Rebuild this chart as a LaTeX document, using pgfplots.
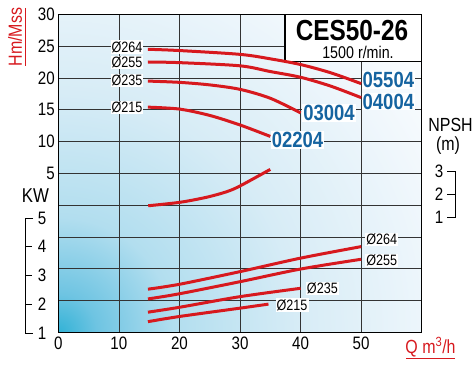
\documentclass[border=0pt]{standalone}
\usepackage{fontspec}
\setmainfont{Liberation Sans}[FakeStretch=0.84]
\usepackage{pgfplots}
\pgfplotsset{compat=1.18}
\definecolor{cred}{RGB}{215,25,30}
\definecolor{cblue}{RGB}{22,100,160}
\definecolor{bg0}{RGB}{50,178,214}
\definecolor{bg1}{RGB}{110,196,226}
\definecolor{bg2}{RGB}{178,222,239}
\definecolor{bg3}{RGB}{215,236,246}
\definecolor{bg4}{RGB}{240,247,252}
\pgfdeclareradialshading{corner}{\pgfpointorigin}{color(0bp)=(bg0); color(2bp)=(bg1); color(6bp)=(bg2); color(12.5bp)=(bg3); color(20bp)=(bg4); color(25bp)=(white); color(50bp)=(white)}
\newcommand{\fs}[1]{\fontsize{#1bp}{#1bp}\selectfont}
\tikzset{lbl/.style={fill=white, inner sep=1bp, font=\fs{15}},
  blbl/.style={fill=white, inner sep=1bp, font=\fs{22}\bfseries, text=cblue}}
\begin{document}
\begin{tikzpicture}[x=1bp,y=1bp]
\path[use as bounding box] (0,0) rectangle (472,364);
% background gradient of the plot area
\begin{scope}
\clip (58.3,31.7) rectangle (421.7,349.7);
\shade[shading=corner] (58.3,31.7) circle (480);
\end{scope}
\pgfplotsset{every axis/.append style={at={(58.3bp,31.7bp)}, anchor=south west,
  width=363.4bp, height=318bp, scale only axis, xmin=0, xmax=60, clip=false}}
% ---------- main axis: head H (m) ----------
\begin{axis}[
  ymin=-20, ymax=30,
  xtick={0,10,...,50}, xticklabels={0,10,20,30,40,50},
  ytick={-20,-15,...,30}, yticklabels={,,,,,5,10,15,20,25,30},
  grid=major, major grid style={black!80, line width=0.7bp},
  major tick length=0pt,
  axis line style={line width=1.4bp},
  tick label style={font=\fs{18}},
  xticklabel style={yshift=-1bp},
  /pgf/number format/assume math mode=true,
]
\filldraw[fill=white, draw=black, line width=1.2bp] (axis cs:37.44,22.6) rectangle (axis cs:60,30);
% H-Q curves
\addplot[cred, line width=3bp, smooth] coordinates {(14.8,24.5)(20,24.3)(30,23.7)(35,23.0)(40,22.1)(45,20.8)(50,19.1)};
\addplot[cred, line width=3bp, smooth] coordinates {(14.8,22.5)(20,22.4)(30,21.9)(35,21.0)(40,20.1)(45,18.7)(50,16.9)};
\addplot[cred, line width=3bp, smooth] coordinates {(14.8,19.5)(20,19.3)(25,18.9)(30,18.2)(35,16.8)(40,14.5)};
\addplot[cred, line width=3bp, smooth] coordinates {(14.8,15.4)(20,15.1)(25,14.1)(30,12.6)(35,10.8)};
% labels
\node[lbl] at (axis cs:11.35,24.85) {Ø264};
\node[lbl] at (axis cs:11.35,22.45) {Ø255};
\node[lbl] at (axis cs:11.35,19.55) {Ø235};
\node[lbl] at (axis cs:11.35,15.34) {Ø215};
\node[blbl] at (axis cs:54.5,19.7) {05504};
\node[blbl] at (axis cs:54.5,16.3) {04004};
\node[blbl] at (axis cs:44.7,14.5) {03004};
\node[blbl] at (axis cs:39.5,10.2) {02204};
\node[lbl] at (axis cs:53.4,-5.38) {Ø264};
\node[lbl] at (axis cs:53.4,-8.74) {Ø255};
\node[lbl] at (axis cs:43.6,-13.08) {Ø235};
\node[lbl] at (axis cs:38.6,-15.7) {Ø215};
\end{axis}
% ---------- power axis: KW ----------
\begin{axis}[hide axis, ymin=1.02, ymax=12.08]
\addplot[cred, line width=3bp, smooth] coordinates {(14.8,2.52)(20,2.69)(30,3.13)(40,3.60)(50,4.00)};
\addplot[cred, line width=3bp, smooth] coordinates {(14.8,2.18)(20,2.36)(30,2.78)(40,3.22)(50,3.56)};
\addplot[cred, line width=3bp, smooth] coordinates {(14.8,1.72)(20,1.89)(30,2.26)(40,2.55)};
\addplot[cred, line width=3bp, smooth] coordinates {(14.8,1.39)(20,1.57)(30,1.86)(34.7,2.00)};
\end{axis}
% ---------- NPSH axis ----------
\begin{axis}[hide axis, ymin=-4.01, ymax=9.81]
\addplot[cred, line width=3bp, smooth] coordinates {(14.84,1.49)(20.08,1.64)(24.5,1.86)(27.8,2.10)(30,2.35)(35,3.07)};
\end{axis}
% ---------- outer texts ----------
\node at (352,333.5) {\fs{29}\bfseries CES50-26};
\node at (358,311.5) {\fs{17}1500 r/min.};
\node[rotate=90, text=cred] at (15,327) {\fs{19}Hm/Mss};
\draw[cred, line width=0.8bp] (25.5,356) -- (25.5,298);
\node at (35.5,168.5) {\fs{20}KW};
\draw[line width=1bp] (33,146) -- (25,146) -- (25,31) -- (33,31);
\foreach \k/\yy in {5/146,4/117.25,3/88.5,2/59.75,1/31}{
  \draw[line width=1bp] (25,\yy) -- (32,\yy);
  \node at (42,\yy) {\fs{18}\k};
}
\node at (450.5,239) {\fs{19}NPSH};
\node at (448,218.5) {\fs{19}(m)};
\draw[line width=1bp] (447,193) -- (455,193) -- (455,147) -- (447,147);
\foreach \k/\yy in {3/193,2/170,1/147}{
  \draw[line width=1bp] (447,\yy) -- (455,\yy);
  \node at (439,\yy) {\fs{18}\k};
}
\node[text=cred] at (430.5,17) {\fs{19}Q m\textsuperscript{3}/h};
\draw[cred, line width=0.8bp] (406,6) -- (455,6);
\end{tikzpicture}
\end{document}
